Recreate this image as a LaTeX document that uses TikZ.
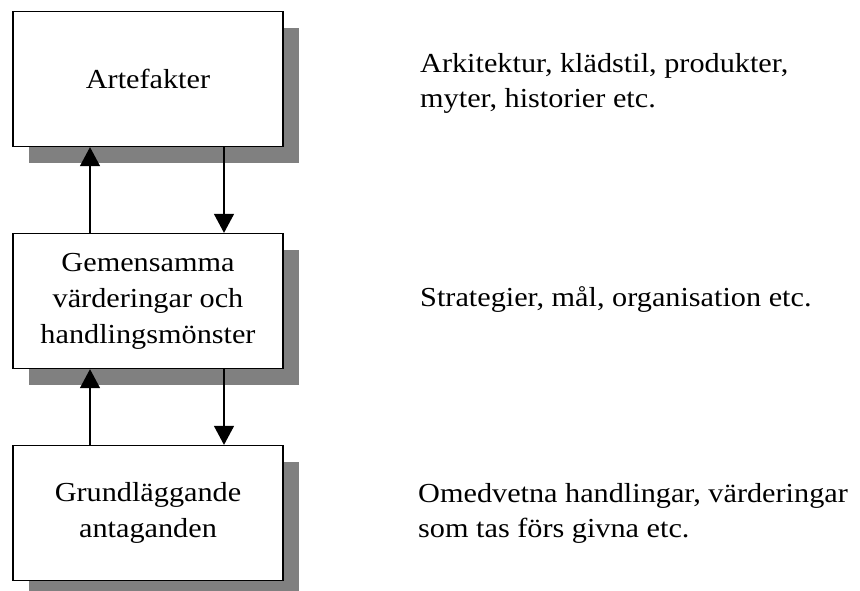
\documentclass[tikz,border=0pt]{standalone}
\usepackage{fontspec}
\setmainfont{Liberation Serif}[FakeStretch=1.1]
\usetikzlibrary{arrows.meta,shadows}
\definecolor{shadowgray}{HTML}{808080}
\begin{document}
\begin{tikzpicture}[x=1pt,y=-1pt,
  level/.style={draw=black, line width=1.3pt, fill=white,
    minimum width=270pt, minimum height=135pt, inner sep=0pt,
    align=center, font=\fontsize{27.5}{36}\selectfont,
    general shadow={fill=shadowgray, shadow xshift=16pt, shadow yshift=-16pt}},
  note/.style={anchor=west, align=left, inner sep=0pt,
    font=\fontsize{27.5}{35}\selectfont},
  flow/.style={line width=1.3pt, -{Triangle[width=20pt,length=19pt]}}]
  \useasboundingbox (0,0) rectangle (860,590);

  % the three levels
  \node[level] (art) at (148,79) {Artefakter};
  \node[level] (ver) at (148,301) {Gemensamma\\värderingar och\\handlingsmönster};
  \node[level] (gru) at (148,513) {Grundläggande\\antaganden};

  % influence upwards (left) and downwards (right)
  \draw[flow] ([xshift=-58pt]ver.north) -- ([xshift=-58pt]art.south);
  \draw[flow] ([xshift=76pt]art.south) -- ([xshift=76pt]ver.north);
  \draw[flow] ([xshift=-58pt]gru.north) -- ([xshift=-58pt]ver.south);
  \draw[flow] ([xshift=76pt]ver.south) -- ([xshift=76pt]gru.north);

  % examples for each level
  \node[note] (artx) at (420,83) {Arkitektur, klädstil, produkter,\\myter, historier etc.};
  \node[note] (verx) at (420,300) {Strategier, mål, organisation etc.};
  \node[note] (grux) at (418,513) {Omedvetna handlingar, värderingar\\som tas förs givna etc.};
\end{tikzpicture}
\end{document}
